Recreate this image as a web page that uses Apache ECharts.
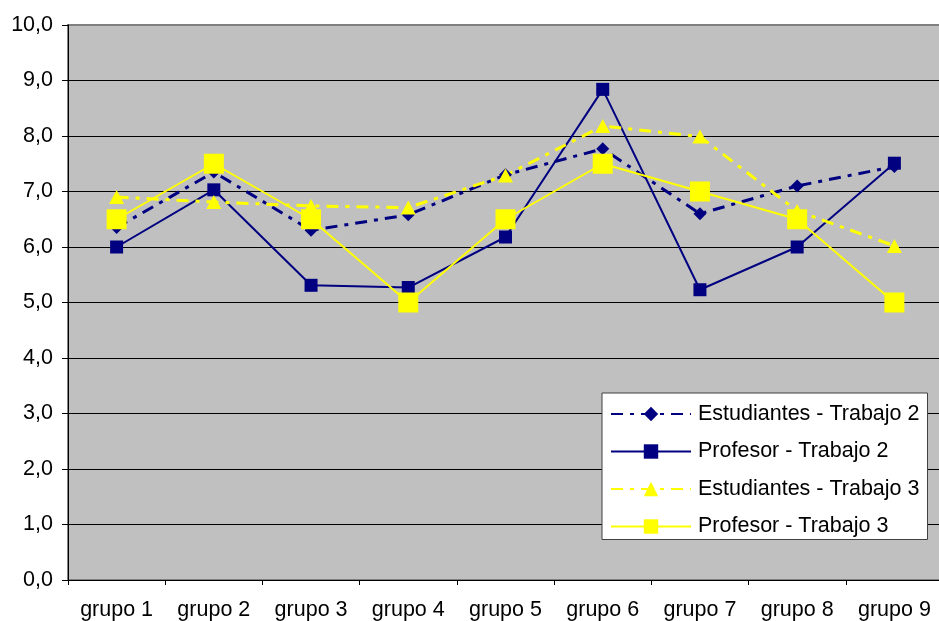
<!DOCTYPE html>
<html>
<head>
<meta charset="utf-8">
<script src="https://cdn.jsdelivr.net/npm/echarts@6/dist/echarts.min.js"></script>
<style>
  html, body { margin: 0; padding: 0; background: #ffffff; }
  #chart { width: 939px; height: 621px; }
</style>
</head>
<body>
<div id="chart"></div>
<script>
// Grupos evaluados
const categories = ['grupo 1', 'grupo 2', 'grupo 3', 'grupo 4', 'grupo 5', 'grupo 6', 'grupo 7', 'grupo 8', 'grupo 9'];

// Notas por grupo
const estudiantesTrabajo2 = [6.35, 7.35, 6.3, 6.58, 7.3, 7.77, 6.6, 7.1, 7.45];
const profesorTrabajo2    = [6.0, 7.03, 5.31, 5.27, 6.18, 8.84, 5.23, 6.0, 7.51];
const estudiantesTrabajo3 = [6.9, 6.81, 6.74, 6.71, 7.29, 8.18, 7.99, 6.65, 6.02];
const profesorTrabajo3    = [6.5, 7.5, 6.5, 5.0, 6.5, 7.5, 7.0, 6.5, 5.0];

const seriesNames = ['Estudiantes - Trabajo 2', 'Profesor - Trabajo 2', 'Estudiantes - Trabajo 3', 'Profesor - Trabajo 3'];

const NAVY = '#000080';
const YELLOW = '#FFFF00';
const FONT = "'Liberation Sans', Arial, sans-serif";

const chart = echarts.init(document.getElementById('chart'), null, { renderer: 'canvas' });

chart.setOption({
  animation: false,
  backgroundColor: '#ffffff',
  textStyle: { fontFamily: FONT },
  grid: {
    left: 68, top: 25, bottom: 41, width: 875,
    outerBoundsMode: 'none',
    containLabel: false,
    show: true,
    backgroundColor: '#c0c0c0',
    borderColor: '#808080',
    borderWidth: 2
  },
  legend: {
    orient: 'vertical',
    left: 602, top: 393,
    backgroundColor: '#ffffff',
    borderColor: '#404040',
    borderWidth: 1,
    borderRadius: 0,
    padding: [10, 8, 2, 8],
    itemWidth: 80,
    itemHeight: 18,
    itemGap: 15.5,
    textStyle: { fontFamily: FONT, fontSize: 21.5, color: '#000000', padding: [0, 0, 0, 2] },
    data: seriesNames
  },
  xAxis: {
    type: 'category',
    data: categories,
    boundaryGap: true,
    axisLine: { lineStyle: { color: '#000000', width: 1 } },
    axisTick: { show: true, length: 5, lineStyle: { color: '#000000' } },
    axisLabel: { color: '#000000', fontSize: 21.5, fontFamily: FONT, margin: 19 },
    splitLine: { show: false }
  },
  yAxis: {
    type: 'value',
    min: 0, max: 10, interval: 1,
    axisLine: { show: true, lineStyle: { color: '#000000', width: 1 } },
    axisTick: { show: true, length: 6, lineStyle: { color: '#000000' } },
    axisLabel: {
      color: '#000000', fontSize: 21.5, fontFamily: FONT, margin: 15,
      formatter: v => v.toFixed(1).replace('.', ',')
    },
    splitLine: { show: true, showMaxLine: false, lineStyle: { color: '#000000', width: 1 } }
  },
  series: [
    {
      name: seriesNames[0], type: 'line', data: estudiantesTrabajo2,
      symbol: 'diamond', symbolSize: 13,
      lineStyle: { color: NAVY, width: 3, type: [12, 7, 4, 7] },
      itemStyle: { color: NAVY, borderWidth: 0 }
    },
    {
      name: seriesNames[1], type: 'line', data: profesorTrabajo2,
      symbol: 'rect', symbolSize: 13,
      lineStyle: { color: NAVY, width: 2, type: 'solid' },
      itemStyle: { color: NAVY, borderWidth: 0 }
    },
    {
      name: seriesNames[2], type: 'line', data: estudiantesTrabajo3,
      symbol: 'triangle', symbolSize: [15, 14],
      lineStyle: { color: YELLOW, width: 3, type: [12, 7, 4, 7] },
      itemStyle: { color: YELLOW, borderWidth: 0 }
    },
    {
      name: seriesNames[3], type: 'line', data: profesorTrabajo3,
      symbol: 'rect', symbolSize: 20,
      lineStyle: { color: YELLOW, width: 2, type: 'solid' },
      itemStyle: { color: YELLOW, borderWidth: 0 }
    }
  ]
});
</script>
</body>
</html>
